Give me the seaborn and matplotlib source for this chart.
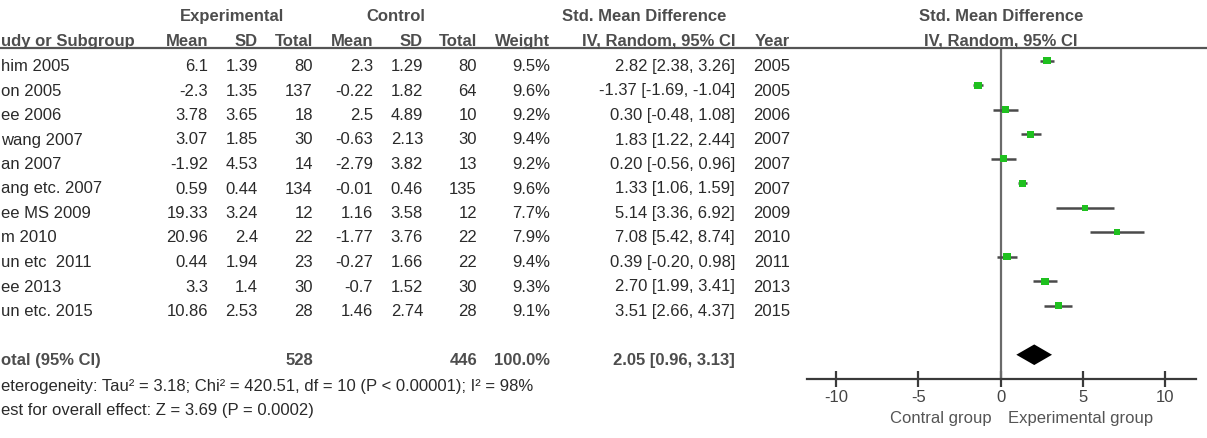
import matplotlib
matplotlib.use("Agg")
import matplotlib.pyplot as plt
from matplotlib.lines import Line2D
import seaborn as sns
import pandas as pd
import numpy as np

# ---------------- data ----------------
studies = ["him 2005", "on 2005", "ee 2006", "wang 2007", "an 2007", "ang etc. 2007",
           "ee MS 2009", "m 2010", "un etc  2011", "ee 2013", "un etc. 2015"]
exp_mean = [6.1, -2.3, 3.78, 3.07, -1.92, 0.59, 19.33, 20.96, 0.44, 3.3, 10.86]
exp_sd = [1.39, 1.35, 3.65, 1.85, 4.53, 0.44, 3.24, 2.4, 1.94, 1.4, 2.53]
exp_n = [80, 137, 18, 30, 14, 134, 12, 22, 23, 30, 28]
ctl_mean = [2.3, -0.22, 2.5, -0.63, -2.79, -0.01, 1.16, -1.77, -0.27, -0.7, 1.46]
ctl_sd = [1.29, 1.82, 4.89, 2.13, 3.82, 0.46, 3.58, 3.76, 1.66, 1.52, 2.74]
ctl_n = [80, 64, 10, 30, 13, 135, 12, 22, 22, 30, 28]
weight = [9.5, 9.6, 9.2, 9.4, 9.2, 9.6, 7.7, 7.9, 9.4, 9.3, 9.1]
smd = [2.82, -1.37, 0.30, 1.83, 0.20, 1.33, 5.14, 7.08, 0.39, 2.70, 3.51]
ci_lo = [2.38, -1.69, -0.48, 1.22, -0.56, 1.06, 3.36, 5.42, -0.20, 1.99, 2.66]
ci_hi = [3.26, -1.04, 1.08, 2.44, 0.96, 1.59, 6.92, 8.74, 0.98, 3.41, 4.37]
years = [2005, 2005, 2006, 2007, 2007, 2007, 2009, 2010, 2011, 2013, 2015]

total_exp_n = 528
total_ctl_n = 446
total_weight = 100.0
pooled = 2.05
pooled_lo = 0.96
pooled_hi = 3.13
heterogeneity = "eterogeneity: Tau\u00b2 = 3.18; Chi\u00b2 = 420.51, df = 10 (P < 0.00001); I\u00b2 = 98%"
overall = "est for overall effect: Z = 3.69 (P = 0.0002)"
x_ticks = [-10, -5, 0, 5, 10]

# ---------------- style ----------------
sns.set_theme(style="white")
plt.rcParams["font.family"] = ["Liberation Sans", "DejaVu Sans"]

W, H = 1207, 438
fig = plt.figure(figsize=(W / 100, H / 100), dpi=100)

FS = 12
HEAD_C = "#4d4d4d"
TXT_C = "#2a2a2a"


def fx(x):
    return x / W


def fy(y):
    return 1 - y / H


def put(x, y, s, ha="right", bold=False, color=TXT_C):
    fig.text(fx(x), fy(y), s, ha=ha, va="baseline", fontsize=FS,
             fontweight="bold" if bold else "normal", color=color)


# ---------------- forest axes ----------------
ax_l, ax_r, ax_t, ax_b = 807, 1196, 48, 379
ax = fig.add_axes([fx(ax_l), fy(ax_b), fx(ax_r - ax_l), (ax_b - ax_t) / H])

rows = np.arange(1, len(studies) + 1)
df = pd.DataFrame({"row": rows, "smd": smd, "lo": ci_lo, "hi": ci_hi, "w": weight})

ax.axvline(0, color="#6a6a6a", lw=1.6, zorder=1)
ax.hlines(df["row"], df["lo"], df["hi"], color="#4a4a4a", lw=1.8, zorder=2)
sns.scatterplot(data=df, x="smd", y="row", size="w", sizes=(18, 28), marker="s",
                color="#1fc01f", edgecolor="none", legend=False, ax=ax, zorder=3)

total_row = len(studies) + 2
dh = 0.42
ax.fill([pooled_lo, pooled, pooled_hi, pooled],
        [total_row, total_row - dh, total_row, total_row + dh],
        color="black", zorder=3, lw=0)

ax.set_xlim(-11.76, 11.88)
ax.set_ylim(13.99, 0.48)
ax.set_xticks(x_ticks)
ax.set_xticklabels([str(t) for t in x_ticks])
ax.set_yticks([])
ax.set_xlabel("")
ax.set_ylabel("")
for s in ["top", "left", "right"]:
    ax.spines[s].set_visible(False)
ax.spines["bottom"].set_color("#3a3a3a")
ax.spines["bottom"].set_linewidth(1.6)
ax.tick_params(axis="x", direction="inout", length=12, width=1.6, color="#3a3a3a",
               labelsize=FS, labelcolor="#444444", pad=2, bottom=True)

# header rule across the whole figure
fig.add_artist(Line2D([0, 1], [fy(48), fy(48)], color="#555555", lw=1.6))

# ---------------- headers ----------------
put(232, 21, "Experimental", ha="center", bold=True, color=HEAD_C)
put(396, 21, "Control", ha="center", bold=True, color=HEAD_C)
put(644, 21, "Std. Mean Difference", ha="center", bold=True, color=HEAD_C)
put(1001, 21, "Std. Mean Difference", ha="center", bold=True, color=HEAD_C)

put(1, 46, "udy or Subgroup", ha="left", bold=True, color=HEAD_C)
for xr, lab in [(208, "Mean"), (258, "SD"), (313, "Total"), (373, "Mean"), (423, "SD"),
                (477, "Total"), (550, "Weight"), (735, "IV, Random, 95% CI"), (790, "Year")]:
    put(xr, 46, lab, bold=True, color=HEAD_C)
put(1001, 46, "IV, Random, 95% CI", ha="center", bold=True, color=HEAD_C)

# ---------------- table rows ----------------
def base(r):
    return 71 + 24.5 * (r - 1)


for i in range(len(studies)):
    y = base(i + 1)
    put(1, y, studies[i], ha="left")
    put(208, y, str(exp_mean[i]))
    put(258, y, str(exp_sd[i]))
    put(313, y, str(exp_n[i]))
    put(373, y, str(ctl_mean[i]))
    put(423, y, str(ctl_sd[i]))
    put(477, y, str(ctl_n[i]))
    put(550, y, f"{weight[i]:.1f}%")
    put(735, y, f"{smd[i]:.2f} [{ci_lo[i]:.2f}, {ci_hi[i]:.2f}]")
    put(790, y, str(years[i]))

yt = base(total_row)
put(1, yt, "otal (95% CI)", ha="left", bold=True, color=HEAD_C)
put(313, yt, str(total_exp_n), bold=True, color=HEAD_C)
put(477, yt, str(total_ctl_n), bold=True, color=HEAD_C)
put(550, yt, f"{total_weight:.1f}%", bold=True, color=HEAD_C)
put(735, yt, f"{pooled:.2f} [{pooled_lo:.2f}, {pooled_hi:.2f}]", bold=True, color=HEAD_C)

put(1, 391, heterogeneity, ha="left")
put(1, 414.5, overall, ha="left")

put(992, 423.5, "Contral group", ha="right", color="#555555")
put(1008, 423.5, "Experimental group", ha="left", color="#555555")

fig.savefig("out.png", dpi=100)
